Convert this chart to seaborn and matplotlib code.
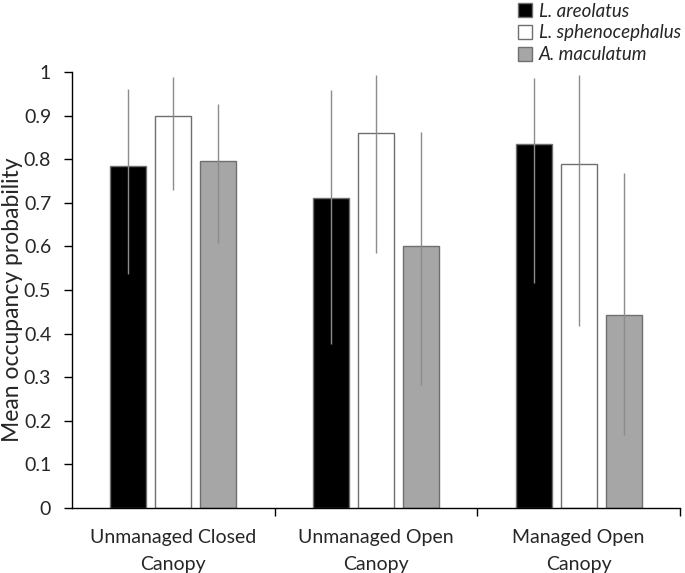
import matplotlib
matplotlib.use("Agg")
import matplotlib.pyplot as plt
import seaborn as sns
import pandas as pd
import numpy as np

habitats = ["Unmanaged Closed\nCanopy", "Unmanaged Open\nCanopy", "Managed Open\nCanopy"]
species = ["L. areolatus", "L. sphenocephalus", "A. maculatum"]
colors = ["#000000", "#ffffff", "#a6a6a6"]

# mean occupancy per species, one value per habitat
mean_areolatus = [0.784, 0.711, 0.835]
mean_spheno = [0.899, 0.860, 0.789]
mean_maculatum = [0.796, 0.601, 0.443]
# lower / upper bounds of the interval
low_areolatus = [0.537, 0.376, 0.516]
low_spheno = [0.729, 0.585, 0.418]
low_maculatum = [0.608, 0.282, 0.167]
high_areolatus = [0.961, 0.959, 0.986]
high_spheno = [0.989, 0.993, 0.993]
high_maculatum = [0.927, 0.862, 0.768]

means = [mean_areolatus, mean_spheno, mean_maculatum]
lows = [low_areolatus, low_spheno, low_maculatum]
highs = [high_areolatus, high_spheno, high_maculatum]

df = pd.DataFrame({
    "habitat": np.tile(habitats, 3),
    "species": np.repeat(species, 3),
    "mean": np.concatenate(means),
})

sns.set_style("white")
plt.rcParams["font.family"] = ["Lato", "DejaVu Sans"]

fig = plt.figure(figsize=(6.85, 5.73), dpi=100)
ax = fig.add_axes([72/685, 1 - 508/573, 608/685, 436/573])

sns.barplot(data=df, x="habitat", y="mean", hue="species", order=habitats,
            hue_order=species, palette=colors, width=0.665, gap=0.2,
            edgecolor="#6f6f6f", linewidth=1, errorbar=None, legend=False, ax=ax)

for cont, lo, hi in zip(ax.containers, lows, highs):
    xs = [p.get_x() + p.get_width() / 2 for p in cont.patches]
    ax.vlines(xs, lo, hi, color="#8c8c8c", linewidth=1, zorder=3)

ax.set_ylim(0, 1)
ax.set_xlim(-0.5, 2.5)
ax.set_yticks(np.arange(0, 1.01, 0.1))
ax.set_yticklabels(["0", "0.1", "0.2", "0.3", "0.4", "0.5", "0.6", "0.7", "0.8", "0.9", "1"])
ax.tick_params(axis="y", which="major", length=6, width=1, color="#000000",
               labelsize=14, left=True, pad=9)
ax.tick_params(axis="x", which="major", length=0, labelsize=14, pad=15)
for lab in ax.get_xticklabels():
    lab.set_linespacing(1.75)
ax.set_xticks([0.5, 1.5, 2.5], minor=True)
ax.tick_params(axis="x", which="minor", length=6, width=1, bottom=True, color="#000000")
for s in ["top", "right"]:
    ax.spines[s].set_visible(False)
for s in ["left", "bottom"]:
    ax.spines[s].set_color("#000000")
    ax.spines[s].set_linewidth(1)
ax.set_xlabel("")
ax.set_ylabel("Mean occupancy probability", fontsize=16.5)
ax.yaxis.set_label_coords(-49/608, 0.477)

handles = [plt.Rectangle((0, 0), 1, 1, facecolor=c, edgecolor="#6f6f6f") for c in colors]
leg = fig.legend(handles, species, loc="upper left", bbox_to_anchor=(505/685, 1.018),
                 frameon=False, fontsize=13.5, handlelength=0.75, handleheight=0.75,
                 handletextpad=0.35, labelspacing=0.25, borderpad=0.2)
for t in leg.get_texts():
    t.set_fontstyle("italic")

fig.savefig("out.png", dpi=100)
